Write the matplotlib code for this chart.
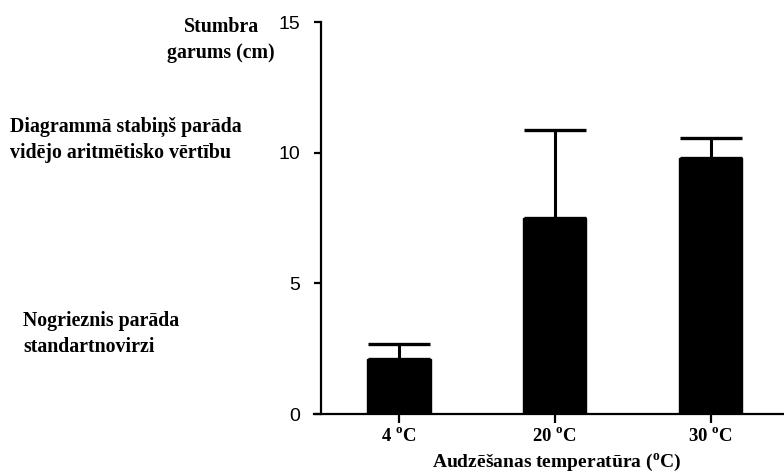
import numpy as np
import matplotlib
matplotlib.use('Agg')
import matplotlib.pyplot as plt

plt.rcParams['mathtext.fontset'] = 'custom'
plt.rcParams['mathtext.rm'] = 'Liberation Serif'
plt.rcParams['mathtext.bf'] = 'Liberation Serif:bold'

# dati no attēla
temperatures = ['4', '20', '30']
mean_len = [2.1, 7.5, 9.8]
sd_len = [0.58, 3.37, 0.77]
y_ticks = [0, 5, 10, 15]

fig = plt.figure(figsize=(7.84, 4.73), dpi=100)
ax = fig.add_axes([314 / 784, 59 / 473, 470 / 784, 392 / 473])

x = np.arange(len(temperatures))
ax.bar(x, mean_len, width=0.405, color='black', edgecolor='black')
ax.errorbar(x, mean_len, yerr=[np.zeros(len(sd_len)), sd_len], fmt='none',
            ecolor='black', elinewidth=2.2, capsize=22.5, capthick=2.4)

ax.set_xlim(-0.545, 2.47)
ax.set_ylim(0, 15)
ax.spines['left'].set_position(('data', -0.5))
ax.spines['top'].set_visible(False)
ax.spines['right'].set_visible(False)
for s in ['left', 'bottom']:
    ax.spines[s].set_linewidth(1.6)

ax.set_yticks(y_ticks)
ax.set_yticklabels([str(v) for v in y_ticks], family='Liberation Sans', fontsize=14)
ax.set_xticks(x)
ax.set_xticklabels([t + r' $^\mathbf{o}$C' for t in temperatures],
                   family='Liberation Serif', fontweight='bold', fontsize=13.5)
ax.tick_params(axis='y', length=5, width=1.6, pad=10)
ax.tick_params(axis='x', length=6.5, width=1.6, pad=3)

fig.text(557 / 784, 1 - 467 / 473, r'Audzēšanas temperatūra ($^\mathbf{o}$C)',
         family='Liberation Serif', fontweight='bold', fontsize=14,
         ha='center', va='baseline')

fig.text(221 / 784, 1 - 40 / 473, 'Stumbra\ngarums (cm)',
         family='Liberation Serif', fontweight='bold', fontsize=14.3,
         ha='center', va='center', linespacing=1.35)
fig.text(10 / 784, 1 - 140 / 473, 'Diagrammā stabiņš parāda\nvidējo aritmētisko vērtību',
         family='Liberation Serif', fontweight='bold', fontsize=14.3,
         ha='left', va='center', linespacing=1.35)
fig.text(23 / 784, 1 - 334 / 473, 'Nogrieznis parāda\nstandartnovirzi',
         family='Liberation Serif', fontweight='bold', fontsize=14.3,
         ha='left', va='center', linespacing=1.35)

fig.savefig('out.png', dpi=100)
